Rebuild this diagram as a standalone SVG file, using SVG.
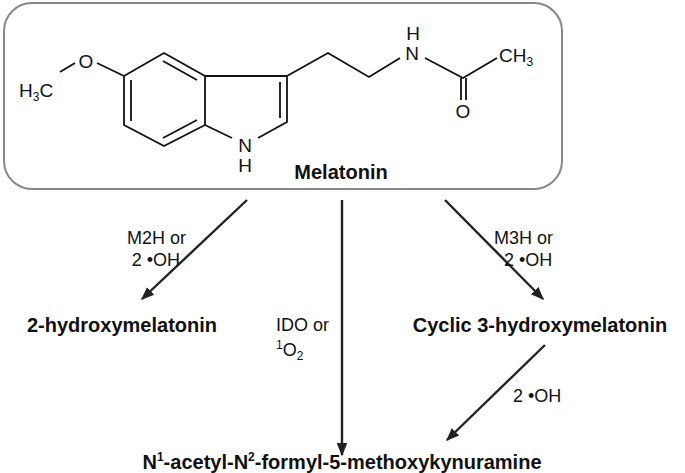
<svg xmlns="http://www.w3.org/2000/svg" width="685" height="473" viewBox="0 0 685 473">
<style>
text{font-family:"Liberation Sans",Arial,sans-serif;fill:#111}
.a{font-size:19px}.l{font-size:18px}.b{font-size:20px;font-weight:bold}.s{font-size:12px}
.bond{stroke:#111;stroke-width:1.8;fill:none}
.c{stroke:#222;stroke-width:2.4;fill:none}
</style>
<defs><marker id="ah" viewBox="0 0 10 10" refX="9" refY="5" markerWidth="5.5" markerHeight="5.5" orient="auto"><path d="M0,1 L10,5 L0,9 z" fill="#222"/></marker></defs>
<g id="melatonin">
<rect x="4" y="3" width="558" height="186" rx="28" fill="#fff" stroke="#888" stroke-width="2"/>
<path class="bond" d="M164,53 L205,76 L205,125 L164,146 L124,125 L124,76 Z M205,76 L287,76 L287,122 L258,138 M232,138 L205,125 M287,76 L328,53 L369,77 L400,58 M425,58 L463,78 L497,58 M461,78 L461,100 M466,78 L466,100 M124,76 L97,63 M75,63 L60,72"/>
<path class="bond" d="M163,61 L197,80 M131,80 L131,121 M163,138 L197,120 M280,82 L280,118"/>
<text class="a" x="86" y="68" text-anchor="middle">O</text>
<text class="a" x="19" y="97">H<tspan class="s" dy="4">3</tspan><tspan dy="-4">C</tspan></text>
<text class="a" x="245" y="152" text-anchor="middle">N</text>
<text class="a" x="245" y="172" text-anchor="middle">H</text>
<text class="a" x="412" y="60" text-anchor="middle">N</text>
<text class="a" x="413" y="40" text-anchor="middle">H</text>
<text class="a" x="499" y="62">CH<tspan class="s" dy="4">3</tspan></text>
<text class="a" x="463" y="118" text-anchor="middle">O</text>
<text class="b" x="341" y="179" text-anchor="middle">Melatonin</text>
</g>
<g id="connectors">
<line class="c" x1="247" y1="200" x2="142" y2="299" marker-end="url(#ah)"/>
<line class="c" x1="342" y1="200" x2="342" y2="455" marker-end="url(#ah)"/>
<line class="c" x1="445" y1="200" x2="543" y2="299" marker-end="url(#ah)"/>
<line class="c" x1="545" y1="345" x2="447" y2="440" marker-end="url(#ah)"/>
</g>
<g id="labels">
<text class="l" x="186" y="244" text-anchor="end">M2H or</text>
<text class="l" x="180" y="266" text-anchor="end">2 •OH</text>
<text class="l" x="494" y="244">M3H or</text>
<text class="l" x="504" y="266">2 •OH</text>
<text class="l" x="276" y="331">IDO or</text>
<text class="l" x="276" y="356"><tspan class="s" dy="-7">1</tspan><tspan dy="7">O</tspan><tspan class="s" dy="4">2</tspan></text>
<text class="l" x="513" y="402">2 •OH</text>
</g>
<g id="n2"><text class="b" x="122" y="332" text-anchor="middle">2-hydroxymelatonin</text></g>
<g id="n3"><text class="b" x="540" y="332" text-anchor="middle">Cyclic 3-hydroxymelatonin</text></g>
<g id="n4"><text class="b" x="342" y="469" text-anchor="middle">N<tspan class="s" dy="-8">1</tspan><tspan dy="8">-acetyl-N</tspan><tspan class="s" dy="-8">2</tspan><tspan dy="8">-formyl-5-methoxykynuramine</tspan></text></g>
</svg>
